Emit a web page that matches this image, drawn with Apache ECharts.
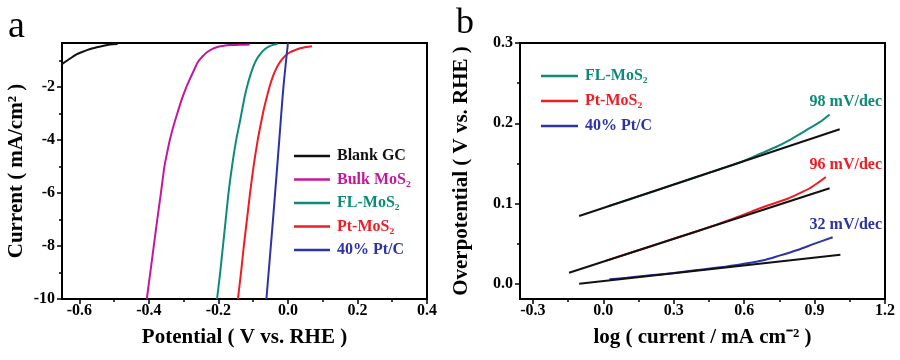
<!DOCTYPE html>
<html>
<head>
<meta charset="utf-8">
<script src="https://cdn.jsdelivr.net/npm/echarts@6/dist/echarts.min.js"></script>
<style>html,body{margin:0;padding:0;background:#fff}#c{width:900px;height:360px}</style>
</head>
<body>
<div id="c"></div>
<script>
// ---------- Panel a: polarization curves (Potential V vs RHE, Current mA/cm2) ----------
const aXTicks = [-0.6, -0.4, -0.2, 0.0, 0.2, 0.4];
const aXMinor = [-0.5, -0.3, -0.1, 0.1, 0.3];
const aYTicks = [-10, -8, -6, -4, -2];
const aYMinor = [-9, -7, -5, -3, -1];

const blankGC = [[-0.65,-1.13],[-0.636,-1.0],[-0.62,-0.86],[-0.607,-0.75],[-0.592,-0.67],[-0.578,-0.6],[-0.564,-0.54],[-0.55,-0.49],[-0.53,-0.43],[-0.512,-0.39],[-0.49,-0.37]];
const bulkMoS2 = [[-0.406,-10],[-0.396,-9],[-0.386,-8],[-0.376,-7],[-0.3655,-6],[-0.3554,-5],[-0.348,-4.5],[-0.340,-4.0],[-0.330,-3.5],[-0.3186,-3.0],[-0.305,-2.44],[-0.294,-2.05],[-0.282,-1.69],[-0.270,-1.35],[-0.259,-1.05],[-0.246,-0.84],[-0.233,-0.68],[-0.217,-0.55],[-0.201,-0.47],[-0.184,-0.43],[-0.167,-0.41],[-0.14,-0.40],[-0.11,-0.39]];
const flMoS2a = [[-0.204,-10],[-0.195,-9],[-0.187,-8],[-0.179,-7],[-0.171,-6],[-0.161,-5],[-0.149,-4],[-0.139,-3.35],[-0.131,-2.8],[-0.124,-2.33],[-0.116,-1.9],[-0.109,-1.58],[-0.100,-1.23],[-0.090,-0.94],[-0.078,-0.72],[-0.066,-0.56],[-0.054,-0.46],[-0.043,-0.40],[-0.03,-0.37]];
const ptMoS2a = [[-0.144,-10],[-0.135,-9],[-0.127,-8],[-0.118,-7],[-0.109,-6],[-0.099,-5],[-0.087,-4],[-0.076,-3.25],[-0.068,-2.75],[-0.060,-2.33],[-0.051,-1.9],[-0.043,-1.58],[-0.033,-1.28],[-0.023,-1.05],[-0.009,-0.83],[0.006,-0.68],[0.020,-0.60],[0.035,-0.53],[0.052,-0.48],[0.069,-0.45]];
const ptCa = [[-0.062,-10],[-0.043,-7],[-0.025,-4],[-0.013,-2],[0.0,-0.33]];

// ---------- Panel b: Tafel plots (log current, overpotential V) ----------
const bXTicks = [-0.3, 0.0, 0.3, 0.6, 0.9, 1.2];
const bXMinor = [-0.15, 0.15, 0.45, 0.75, 1.05];
const bYTicks = [0.0, 0.1, 0.2, 0.3];
const bYMinor = [0.05, 0.15, 0.25];

const flTafel = [[0.02,0.0965],[0.1,0.104],[0.2,0.1137],[0.3,0.1235],[0.4,0.1333],[0.5,0.143],[0.59,0.152],[0.677,0.163],[0.74,0.171],[0.793,0.179],[0.84,0.187],[0.879,0.194],[0.92,0.201],[0.964,0.211]];
const flFit = [[-0.103,0.0845],[1.007,0.1925]];
const ptTafel = [[0.013,0.0288],[0.1,0.037],[0.2,0.0465],[0.3,0.056],[0.4,0.0655],[0.5,0.0755],[0.592,0.0855],[0.677,0.095],[0.776,0.105],[0.83,0.112],[0.879,0.119],[0.92,0.127],[0.948,0.133]];
const ptFit = [[-0.146,0.0137],[0.964,0.119]];
const ptcTafel = [[0.026,0.0055],[0.1,0.0075],[0.2,0.0105],[0.3,0.0135],[0.4,0.017],[0.5,0.0205],[0.6,0.025],[0.677,0.029],[0.75,0.035],[0.827,0.042],[0.9,0.05],[0.977,0.058]];
const ptcFit = [[-0.103,0.0],[1.01,0.036]];

const slopeLabels = ['98 mV/dec', '96 mV/dec', '32 mV/dec'];
const namesA = ['Blank GC', 'Bulk MoS₂', 'FL-MoS₂', 'Pt-MoS₂', '40% Pt/C'];

const C = {black:'#111111', magenta:'#c4189c', teal:'#0d8a7a', red:'#ee1c24', blue:'#2b33a6'};
const FONT = '"Liberation Serif","Times New Roman",serif';

function axisBase(gridIndex, min, max, ticks, fmt) {
  return {
    type: 'value', gridIndex, min, max,
    axisLine: {show: true, onZero: false, lineStyle: {color: '#000', width: 2}},
    axisTick: {show: true, inside: false, length: 5, customValues: ticks, lineStyle: {color: '#000', width: 1.5}},
    axisLabel: {show: true, customValues: ticks, formatter: fmt, color: '#000', fontFamily: FONT, fontWeight: 'bold', fontSize: 16, margin: 4},
    splitLine: {show: false}
  };
}
function axisMinor(gridIndex, min, max, ticks) {
  return {
    type: 'value', gridIndex, min, max,
    axisLine: {show: false, onZero: false},
    axisTick: {show: true, inside: false, length: 3, customValues: ticks, lineStyle: {color: '#000', width: 1.5}},
    axisLabel: {show: false},
    splitLine: {show: false}
  };
}
const f1 = v => Number(v).toFixed(1);
const f0 = v => String(Math.round(v));
const nameStyle = {color: '#000', fontFamily: FONT, fontWeight: 'bold', fontSize: 21};

const xA = axisBase(0, -0.65, 0.4, aXTicks, f1);
Object.assign(xA, {position: 'bottom', name: 'Potential ( V vs. RHE )', nameLocation: 'middle', nameGap: 28, nameTextStyle: nameStyle});
const xAm = axisMinor(0, -0.65, 0.4, aXMinor); xAm.position = 'bottom';
const yA = axisBase(0, -10, -0.33, aYTicks, f0);
Object.assign(yA, {position: 'left', name: 'Current ( mA/cm² )', nameLocation: 'middle', nameGap: 35, nameTextStyle: nameStyle});
yA.axisLabel.margin = 7;
const yAm = axisMinor(0, -10, -0.33, aYMinor); yAm.position = 'left';

const xB = axisBase(1, -0.355, 1.2, bXTicks, f1);
Object.assign(xB, {position: 'bottom', name: 'log ( current / mA cm⁻² )', nameLocation: 'middle', nameGap: 28, nameTextStyle: nameStyle});
const xBm = axisMinor(1, -0.355, 1.2, bXMinor); xBm.position = 'bottom';
const yB = axisBase(1, -0.019, 0.3, bYTicks, f1);
Object.assign(yB, {position: 'left', name: 'Overpotential ( V vs. RHE )', nameLocation: 'middle', nameGap: 48, nameTextStyle: nameStyle});
yB.axisLabel.margin = 7;
const yBm = axisMinor(1, -0.019, 0.3, bYMinor); yBm.position = 'left';

function line(name, data, color, xi, yi, z) {
  return {name, type: 'line', data, xAxisIndex: xi, yAxisIndex: yi, symbol: 'none', smooth: 0.3,
    lineStyle: {color, width: 2}, itemStyle: {color}, z: z || 2, animation: false, silent: true};
}

const colorsA = [C.black, C.magenta, C.teal, C.red, C.blue];
const legendTxt = (names, colors) => names.map((n, i) => ({name: n, textStyle: {color: colors[i]}}));

const option = {
  animation: false,
  backgroundColor: '#fff',
  grid: [
    {left: 62, top: 43, width: 365, height: 256, show: true, borderColor: '#000', borderWidth: 2, backgroundColor: 'transparent'},
    {left: 520, top: 43, width: 365, height: 256, show: true, borderColor: '#000', borderWidth: 2, backgroundColor: 'transparent'}
  ],
  xAxis: [xA, xAm, xB, xBm],
  yAxis: [yA, yAm, yB, yBm],
  legend: [
    {orient: 'vertical', left: 289, top: 143, itemWidth: 36, itemHeight: 2.5, itemGap: 7.5, icon: 'rect', selectedMode: false,
     textStyle: {fontFamily: FONT, fontWeight: 'bold', fontSize: 16, padding: [0,0,0,2]},
     data: legendTxt(namesA, colorsA)},
    {orient: 'vertical', left: 536, top: 63, itemWidth: 37, itemHeight: 2.5, itemGap: 9, icon: 'rect', selectedMode: false,
     textStyle: {fontFamily: FONT, fontWeight: 'bold', fontSize: 16, padding: [0,0,0,2]},
     data: legendTxt(namesA.slice(2), colorsA.slice(2))}
  ],
  series: [
    line(namesA[0], blankGC, C.black, 0, 0),
    line(namesA[1], bulkMoS2, C.magenta, 0, 0),
    line(namesA[2], flMoS2a, C.teal, 0, 0),
    line(namesA[3], ptMoS2a, C.red, 0, 0),
    line(namesA[4], ptCa, C.blue, 0, 0),
    line(namesA[2], flTafel, C.teal, 2, 2),
    line(namesA[3], ptTafel, C.red, 2, 2),
    line(namesA[4], ptcTafel, C.blue, 2, 2),
    line('fit1', flFit, C.black, 2, 2, 3),
    line('fit2', ptFit, C.black, 2, 2, 3),
    line('fit3', ptcFit, C.black, 2, 2, 3)
  ],
  graphic: [
    {type: 'text', left: 8, top: 8, style: {text: 'a', font: '38px ' + FONT, fill: '#000'}},
    {type: 'text', left: 456, top: 6, style: {text: 'b', font: '36px ' + FONT, fill: '#000'}},
    {type: 'text', x: 882, y: 102, style: {text: slopeLabels[0], font: 'bold 16px ' + FONT, fill: C.teal, align: 'right', verticalAlign: 'middle'}},
    {type: 'text', x: 882, y: 165, style: {text: slopeLabels[1], font: 'bold 16px ' + FONT, fill: C.red, align: 'right', verticalAlign: 'middle'}},
    {type: 'text', x: 882, y: 225, style: {text: slopeLabels[2], font: 'bold 16px ' + FONT, fill: C.blue, align: 'right', verticalAlign: 'middle'}}
  ]
};
const chart = echarts.init(document.getElementById('c'), null, {renderer: 'canvas'});
chart.setOption(option);
</script>
</body>
</html>
